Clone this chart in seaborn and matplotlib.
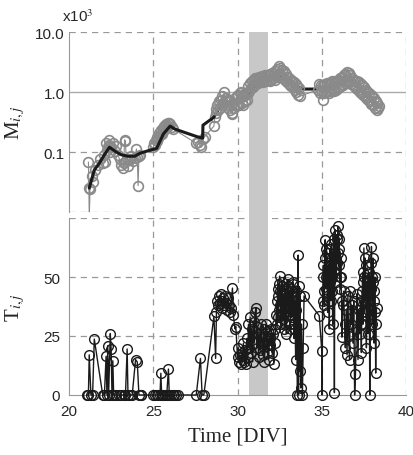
import matplotlib
matplotlib.use("Agg")
import matplotlib.pyplot as plt
import seaborn as sns
import pandas as pd

# ---- data ----
# top panel: M_ij (x10^3), gray circles
m_time = [21.15, 21.18, 21.2, 21.25, 21.35, 21.45, 21.55, 21.7, 21.85, 22.0, 22.1, 22.15,
          22.2, 22.25, 22.3, 22.35, 22.4, 22.45, 22.5, 22.6, 22.7, 22.8, 22.9, 23.0, 23.1,
          23.2, 23.25, 23.3, 23.35, 23.4, 23.5, 23.6, 23.7, 23.8, 23.9, 24.0, 24.05, 24.1,
          24.15, 24.2,
          25.0, 25.05, 25.1, 25.15, 25.2, 25.25, 25.3, 25.35, 25.4, 25.45, 25.5, 25.55, 25.6,
          25.65, 25.7, 25.75, 25.8, 25.85, 25.9, 25.95, 26.0, 26.1, 26.2,
          27.55, 27.65, 27.75, 27.85, 27.95, 28.05,
          28.6, 28.65, 28.7, 28.75, 28.8, 28.85, 28.9, 28.95, 29.0, 29.05, 29.1, 29.15, 29.2,
          29.25, 29.3, 29.35, 29.4, 29.45, 29.5, 29.55, 29.6, 29.65, 29.7, 29.75, 29.8, 29.85,
          29.9, 29.95, 30.0, 30.05, 30.1, 30.15, 30.2, 30.25, 30.3, 30.35, 30.4, 30.45, 30.5,
          30.55,
          30.6, 30.65, 30.7, 30.75, 30.8, 30.85, 30.9, 30.95, 31.0, 31.05, 31.1, 31.15, 31.2,
          31.25, 31.3, 31.35, 31.4, 31.45, 31.5, 31.55, 31.6, 31.65, 31.7, 31.75, 31.8,
          31.85, 31.9, 31.95, 32.0, 32.05, 32.1, 32.15, 32.2, 32.25, 32.3, 32.35, 32.4, 32.45,
          32.5, 32.55, 32.6, 32.65, 32.7, 32.75, 32.8,
          32.85, 32.9, 32.95, 33.0, 33.05, 33.1, 33.15, 33.2, 33.25, 33.3, 33.35, 33.4, 33.45,
          33.5, 33.55, 33.6, 33.65, 33.7,
          34.8, 34.85, 34.9, 34.95, 35.0, 35.05, 35.1, 35.15, 35.2, 35.25, 35.3, 35.35, 35.4,
          35.45, 35.5, 35.55, 35.6, 35.65, 35.7, 35.75, 35.8, 35.85, 35.9,
          35.95, 36.0, 36.05, 36.1, 36.15, 36.2, 36.25, 36.3, 36.35, 36.4, 36.45, 36.5, 36.55,
          36.6, 36.65, 36.7, 36.75, 36.8, 36.85, 36.9, 36.95, 37.0,
          37.05, 37.1, 37.15, 37.2, 37.25, 37.3, 37.35, 37.4, 37.45, 37.5, 37.55, 37.6, 37.65,
          37.7, 37.75, 37.8, 37.85, 37.9, 37.95, 38.0, 38.05, 38.1, 38.15, 38.2, 38.25, 38.3,
          38.35, 38.4]
m_vals = [0.068, 0.025, 0.008, 0.024, 0.04, 0.032, 0.05, 0.06, 0.075, 0.065, 0.09, 0.068,
          0.14, 0.11, 0.12, 0.16, 0.13, 0.1, 0.12, 0.14, 0.105, 0.125, 0.09, 0.075, 0.06,
          0.055, 0.065, 0.16, 0.15, 0.07, 0.058, 0.075, 0.085, 0.07, 0.08, 0.112, 0.082, 0.0275,
          0.087, 0.09,
          0.12, 0.14, 0.13, 0.16, 0.15, 0.18, 0.17, 0.21, 0.19, 0.23, 0.2, 0.25, 0.22,
          0.27, 0.24, 0.29, 0.26, 0.3, 0.27, 0.3, 0.29, 0.26, 0.24,
          0.14, 0.145, 0.13, 0.12, 0.165, 0.18,
          0.27, 0.38, 0.52, 0.45, 0.6, 0.5, 0.7, 0.55, 0.75, 0.6, 0.85, 0.65, 1.0,
          0.7, 0.8, 0.6, 0.75, 0.55, 0.7, 0.5, 0.6, 0.45, 0.43, 0.65, 0.55, 0.8,
          0.6, 0.85, 0.63, 0.9, 0.6, 0.95, 1.0, 0.65, 0.9, 0.6, 0.85, 0.7, 0.95,
          0.75,
          0.95, 1.25, 1.05, 1.4, 1.15, 1.5, 1.2, 1.6, 1.3, 1.7, 1.35, 1.65, 1.4,
          1.75, 1.45, 1.8, 1.5, 1.85, 1.45, 1.8, 1.5, 1.9, 1.55, 1.85, 1.6,
          1.95, 1.55, 2.0, 1.6, 2.1, 1.7, 2.0, 1.6, 2.2, 1.75, 2.4, 1.8, 2.7,
          2.0, 2.5, 1.8, 2.3, 1.7, 2.2, 1.6,
          2.0, 1.5, 1.8, 1.4, 1.7, 1.3, 1.6, 1.25, 1.5, 1.2, 1.45, 1.1, 1.35,
          1.0, 1.25, 0.9, 1.15, 0.85,
          1.1, 1.35, 0.95, 1.3, 1.0, 0.73, 1.3, 0.95, 1.35, 1.0, 1.4, 1.05, 1.35,
          0.95, 1.4, 1.05, 1.5, 1.1, 1.45, 1.05, 1.5, 1.1, 1.55,
          1.15, 1.6, 1.2, 1.7, 1.25, 1.8, 1.3, 1.9, 1.4, 2.0, 1.5, 2.15, 1.5,
          2.05, 1.45, 1.9, 1.35, 1.7, 1.3, 1.6, 1.2, 1.55,
          1.15, 1.5, 1.1, 1.45, 1.0, 1.35, 0.95, 1.3, 0.9, 1.2, 0.85, 1.1, 0.8,
          1.0, 0.75, 0.95, 0.7, 0.9, 0.62, 0.85, 0.6, 0.8, 0.55, 0.7, 0.5, 0.65,
          0.55, 0.58]

# smoothed trend (black line): visible part over the sparse circles, hidden part under the blob
trend_early_time = [21.2, 21.5, 21.8, 22.1, 22.4, 22.8, 23.1, 23.5, 23.9, 24.2, 24.7, 25.2,
                    25.6, 26.0, 26.3, 27.6, 27.93, 27.95, 28.6]
trend_early_vals = [0.025, 0.05, 0.065, 0.09, 0.12, 0.1, 0.09, 0.085, 0.085, 0.095, 0.105,
                    0.115, 0.2, 0.27, 0.24, 0.18, 0.17, 0.28, 0.38]
trend_late_time = [28.6, 29.0, 29.5, 30.0, 30.5, 31.0, 31.5, 32.0, 32.5, 33.0, 33.5, 33.9,
                   34.8, 35.5, 36.0, 36.5, 37.0, 37.5, 38.0, 38.3]
trend_late_vals = [0.38, 0.6, 0.65, 0.7, 0.8, 1.3, 1.55, 1.75, 1.9, 1.6, 1.25, 1.12,
                   1.12, 1.2, 1.35, 1.6, 1.35, 1.0, 0.75, 0.6]

# bottom panel: T_ij, black circles (typed in segments)
t_time_a = [21.05, 21.15, 21.2, 21.3, 21.4, 21.5, 22.0, 22.1, 22.2, 22.25, 22.3, 22.35, 22.45,
            22.5, 22.55, 22.6, 22.65, 22.8, 22.95, 23.1, 23.25, 23.35, 23.45, 23.5, 23.6,
            23.75, 23.95, 24.05, 24.15, 24.25, 24.3,
            25.0, 25.1, 25.2, 25.3, 25.4, 25.45, 25.5, 25.6, 25.7, 25.8, 25.9, 25.95, 26.05,
            26.15, 26.25, 26.35, 26.45,
            27.55, 27.8, 27.9, 28.0, 28.6, 28.7, 28.75, 28.8, 28.85, 28.9, 28.95, 29.0, 29.05,
            29.1, 29.15, 29.2, 29.25, 29.3, 29.4, 29.45, 29.5, 29.55, 29.6, 29.7, 29.75, 29.85,
            29.9]
t_vals_a = [0, 0, 17, 0, 0, 23.7, 0, 0, 16.4, 0, 20.9, 0, 26,
            19.5, 0, 14.5, 0, 0, 0, 0, 0, 0, 19.5, 0, 0,
            0, 15, 14, 0, 0, 0,
            0, 0, 0, 0, 0, 9.2, 0, 0, 0, 0, 11, 0, 0,
            0, 0, 0, 0,
            0, 15.5, 0, 0, 33.3, 15.5, 35, 40, 38, 42, 39, 43, 40,
            37, 41, 38, 42, 39, 36, 41, 38, 35, 37, 45.3, 34, 28,
            29]
t_time_b = [30.0, 30.05, 30.1, 30.15, 30.2, 30.25, 30.3, 30.35, 30.4, 30.45, 30.5, 30.55, 30.6,
            30.65, 30.7, 30.75, 30.8, 30.85, 30.9, 30.95, 31.0, 31.05, 31.1, 31.15, 31.2, 31.25,
            31.3, 31.35, 31.4, 31.45, 31.5, 31.55, 31.6, 31.65, 31.7, 31.75, 31.8, 31.85, 31.9,
            31.95, 32.0, 32.05, 32.1, 32.15, 32.2, 32.25]
t_vals_b = [16, 20, 14, 17, 13, 18, 15, 22, 14, 19, 13, 24, 16,
            30, 20, 33, 18, 28, 14, 31, 22, 35, 37, 20, 29, 16,
            26, 19, 30, 22, 17, 28, 14, 25, 30, 18, 27, 15, 24,
            21, 28, 18, 26, 13, 22, 28]
t_time_c = [32.3, 32.325, 32.35, 32.375, 32.4, 32.425, 32.45, 32.475, 32.5, 32.525, 32.55,
            32.575, 32.6, 32.625, 32.65, 32.675, 32.7, 32.725, 32.75, 32.775, 32.8, 32.825,
            32.85, 32.875, 32.9, 32.925, 32.95, 32.975, 33.0, 33.025, 33.05, 33.075, 33.1,
            33.125, 33.15, 33.175, 33.2, 33.225, 33.25, 33.275, 33.3, 33.325, 33.35, 33.375,
            33.4, 33.425, 33.45, 33.475, 33.5,
            33.55, 33.6, 33.62, 33.65, 33.7, 33.72, 33.75, 33.8, 33.85, 33.9, 33.95]
t_vals_c = [34, 40, 30, 45, 42, 33, 36, 47, 50.4, 38, 44,
            30, 38, 48, 46, 34, 32, 42, 40, 28, 30, 45,
            44, 35, 26, 40, 38, 46, 49, 37, 34, 44, 40,
            30, 28, 45, 43, 33, 36, 48, 47, 30, 24, 38,
            40, 28, 15, 36, 44,
            0, 59.3, 0, 46, 10, 42, 3, 30, 0, 20, 42]
t_time_d = [34.85, 35.0, 35.02, 35.05, 35.075, 35.1, 35.125, 35.15, 35.175, 35.2, 35.225,
            35.25, 35.275, 35.3, 35.325, 35.35, 35.375, 35.4, 35.425, 35.45, 35.475, 35.5,
            35.525, 35.55, 35.575, 35.6, 35.625, 35.65, 35.675, 35.7, 35.725, 35.75, 35.775,
            35.8, 35.825, 35.85, 35.875, 35.9, 35.925, 35.95, 35.975, 36.0, 36.025, 36.05,
            36.075, 36.1, 36.125, 36.15, 36.175]
t_vals_d = [33.6, 18.8, 0, 40, 50, 55, 44, 38, 58, 65.8, 50,
            45, 62, 60, 42, 35, 52, 55, 40, 28, 48, 62,
            50, 40, 64, 58, 44, 30, 55, 66, 52, 1, 60,
            70, 58, 48, 66, 68, 56, 71.5, 60, 55, 66, 62,
            50, 45, 58, 50, 40]
t_time_e = [36.2, 36.25, 36.3, 36.35, 36.4, 36.45, 36.5, 36.55, 36.6, 36.65, 36.7, 36.75, 36.8,
            36.85, 36.9, 36.95, 37.0, 37.05, 37.1, 37.15, 37.2, 37.25,
            37.3, 37.325, 37.35, 37.375, 37.4, 37.425, 37.45, 37.475, 37.5, 37.525, 37.55,
            37.575, 37.6, 37.625, 37.65, 37.675, 37.7, 37.725, 37.75, 37.775, 37.8, 37.825,
            37.85, 37.875, 37.9, 37.925, 37.95, 37.975, 38.0, 38.025, 38.05, 38.075, 38.1,
            38.125, 38.15, 38.175, 38.2, 38.225, 38.25]
t_vals_e = [24.5, 38, 44, 30, 20, 36, 17, 42, 25, 15, 44, 30, 38,
            22, 40, 0, 8.9, 28, 43, 15, 36, 26,
            40, 30, 18, 35, 44, 52, 30, 48, 62.3, 50, 40,
            58, 55, 35, 20, 40, 48, 36, 26, 45, 52, 40,
            0, 38, 45, 56, 62.9, 50, 30, 48, 58, 44, 22,
            40, 50, 35, 9.3, 30, 37]
t_time = t_time_a + t_time_b + t_time_c + t_time_d + t_time_e
t_vals = t_vals_a + t_vals_b + t_vals_c + t_vals_d + t_vals_e

x_ticks = [20, 25, 30, 35, 40]
band = (30.7, 31.8)

m_df = pd.DataFrame({"time": m_time, "M": m_vals})
trend_early = pd.DataFrame({"time": trend_early_time, "M": trend_early_vals})
trend_late = pd.DataFrame({"time": trend_late_time, "M": trend_late_vals})
t_df = pd.DataFrame({"time": t_time, "T": t_vals})

sns.set_style("white")
plt.rcParams["font.family"] = ["Liberation Sans", "DejaVu Sans"]
plt.rcParams["mathtext.fontset"] = "stix"

fig = plt.figure(figsize=(4.14, 4.56), dpi=100)
ax1 = fig.add_axes([0.1667, 0.5329, 0.814, 0.3947])
ax2 = fig.add_axes([0.1667, 0.1316, 0.814, 0.3881])

grid_kw = dict(color="#999999", lw=0.9, ls=(0, (5, 4)), zorder=0)
band_color = "#c8c8c8"
gray = "#8a8a8a"
black = "#1a1a1a"

# ---- top panel ----
ax1.set_yscale("log")
ax1.set_xlim(20, 40)
ax1.set_ylim(0.01, 10)
span = ax1.axvspan(*band, ymin=-0.04, ymax=1, color=band_color, lw=0, zorder=0.5)
span.set_clip_on(False)
for x in x_ticks[1:]:
    ax1.axvline(x, **grid_kw)
for y in [0.01, 0.1, 10]:
    ax1.axhline(y, **grid_kw)
ax1.axhline(1.0, color="#aaaaaa", lw=1.0, zorder=0)

sns.lineplot(data=trend_late, x="time", y="M", ax=ax1, sort=False, estimator=None,
             color=black, lw=2.2, zorder=1.5)
sns.lineplot(data=m_df, x="time", y="M", ax=ax1, sort=False, estimator=None,
             color=gray, lw=0.8, marker="o", markersize=7,
             markerfacecolor="none", markeredgecolor=gray, markeredgewidth=1.2,
             zorder=2)
sns.lineplot(data=trend_early, x="time", y="M", ax=ax1, sort=False, estimator=None,
             color=black, lw=2.2, zorder=3)

ax1.set_yticks([0.1, 1, 10])
ax1.set_yticklabels(["0.1", "1.0", "10.0"])
ax1.set_xticks(x_ticks)
ax1.tick_params(axis="x", length=0, labelbottom=False)
ax1.tick_params(axis="y", which="major", direction="in", length=4, color="#888888",
                labelsize=11, pad=3)
ax1.tick_params(axis="y", which="minor", direction="in", length=2.5, color="#888888")
ax1.set_xlabel("")
ax1.set_ylabel(r"M$_{\it i,j}$", family="Liberation Serif", fontsize=15)
for s in ["top", "right", "bottom"]:
    ax1.spines[s].set_visible(False)
ax1.spines["left"].set_color("#999999")
ax1.text(-0.02, 1.045, r"x10$^{3}$", transform=ax1.transAxes, fontsize=11,
         ha="left", va="bottom", family="Liberation Sans")

# ---- bottom panel ----
ax2.set_xlim(20, 40)
ax2.set_ylim(0, 75)
ax2.axvspan(*band, color=band_color, lw=0, zorder=0.5)
for x in x_ticks[1:]:
    ax2.axvline(x, **grid_kw)
for y in [25, 50, 75]:
    ax2.axhline(y, **grid_kw)

sns.lineplot(data=t_df, x="time", y="T", ax=ax2, sort=False, estimator=None,
             color=black, lw=1.0, marker="o", markersize=7,
             markerfacecolor="none", markeredgecolor=black, markeredgewidth=1.0,
             zorder=3, clip_on=False)

ax2.set_xticks(x_ticks)
ax2.set_yticks([0, 25, 50])
ax2.tick_params(axis="both", direction="out", length=3, color="#999999", labelsize=11)
ax2.set_xlabel("Time [DIV]", family="Liberation Serif", fontsize=15, labelpad=6)
ax2.set_ylabel(r"T$_{\it i,j}$", family="Liberation Serif", fontsize=15)
for s in ["top", "right"]:
    ax2.spines[s].set_visible(False)
ax2.spines["left"].set_color("#999999")
ax2.spines["bottom"].set_color("#999999")

ax1.yaxis.set_label_coords(-0.125, 0.5)
ax2.yaxis.set_label_coords(-0.125, 0.5)

fig.savefig("out.png", dpi=100)
